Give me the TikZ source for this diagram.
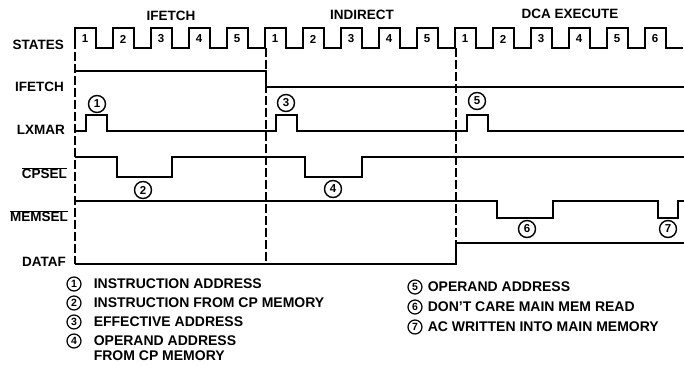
\documentclass[tikz,border=0pt]{standalone}
\usepackage{fontspec}
\setmainfont{Liberation Sans}
\usetikzlibrary{positioning}

\begin{document}
\begin{tikzpicture}[x=1pt,y=-1pt,font=\bfseries\fontsize{13.5}{15}\selectfont,
                    wave/.style={line width=2.6pt},
                    guide/.style={line width=1.2pt,dash pattern=on 9pt off 3pt},
                    signame/.style={anchor=east,inner sep=0pt},
                    marker/.style={circle,draw,line width=1.4pt,inner sep=0pt,minimum size=17pt,
                                   font=\bfseries\fontsize{11.5}{11.5}\selectfont},
                    key/.style={circle,draw,line width=1.2pt,inner sep=0pt,minimum size=14pt,
                                font=\bfseries\fontsize{10.5}{10.5}\selectfont},
                    note/.style={anchor=west,inner sep=0pt,font=\bfseries\fontsize{14}{15}\selectfont}]
    \useasboundingbox (0,0) rectangle (684,366);

    % signal names
    \node[signame] (states) at (64,45)  {STATES};
    \node[signame] (ifetch) at (64,87)  {IFETCH};
    \node[signame] (lxmar)  at (65,130) {LXMAR};
    \node[signame] (cpsel)  at (67,173) {$\overline{\mbox{CPSEL}}$};
    \node[signame] (memsel) at (68,216) {$\overline{\mbox{MEMSEL}}$};
    \node[signame] (dataf)  at (66,262) {DATAF};

    % cycle names
    \node (hifetch)   at (171,16) {IFETCH};
    \node (hindirect) at (362,15) {INDIRECT};
    \node (hdca)      at (570,14) {DCA EXECUTE};

    % state guides
    \draw[guide] (75,28)  -- (75,264);
    \draw[guide] (266,48) -- (266,264);
    \draw[guide] (456,48) -- (456,243);

    % waveforms
    \draw[wave] (75,48) \foreach \k in {0,...,15} { -- ++(0,-20) -- ++(21,0) -- ++(0,20) -- ++(17,0) };
    \foreach \n [count=\k from 0] in {1,2,3,4,5,1,2,3,4,5,1,2,3,4,5,6}
        \node[font=\bfseries\fontsize{11.5}{11.5}\selectfont] (s\k) at (85+38*\k,39) {\n};
    \draw[wave] (75,71) -- (266,71) -- (266,87) -- (684,87);
    \draw[wave] (75,131) -- (86,131) |- (107,115) |- (276,131) |- (297,115)
                |- (467,131) |- (488,115) |- (684,131);
    \draw[wave] (75,157) -| (117,177) -| (172,157) -| (305,177) -| (362,157) -- (684,157);
    \draw[wave] (75,201) -| (497,218) -| (553,201) -| (658,218) -| (678,201) -- (684,201);
    \draw[wave] (75,264) -| (456,243) -- (684,243);

    % markers
    \node[marker] (m1) at (97,104)  {1};
    \node[marker] (m2) at (143,190) {2};
    \node[marker] (m3) at (286,103) {3};
    \node[marker] (m4) at (333,189) {4};
    \node[marker] (m5) at (477,101) {5};
    \node[marker] (m6) at (527,229) {6};
    \node[marker] (m7) at (668,229) {7};

    % legend
    \node[key] (k1) at (74,284) {1};
    \node[note,right=12pt of k1] (t1) {INSTRUCTION ADDRESS};
    \node[key] (k2) at (74,303) {2};
    \node[note,right=12pt of k2] (t2) {INSTRUCTION FROM CP MEMORY};
    \node[key] (k3) at (74,322) {3};
    \node[note,right=12pt of k3] (t3) {EFFECTIVE ADDRESS};
    \node[key] (k4) at (74,341) {4};
    \node[note,right=12pt of k4] (t4) {OPERAND ADDRESS};
    \node[note,below=4pt of t4.south west,anchor=north west] (t4b) {FROM CP MEMORY};
    \node[key] (k5) at (415,287) {5};
    \node[note,right=5pt of k5] (t5) {OPERAND ADDRESS};
    \node[key] (k6) at (415,307) {6};
    \node[note,right=5pt of k6] (t6) {DON'T CARE MAIN MEM READ};
    \node[key] (k7) at (415,327) {7};
    \node[note,right=5pt of k7] (t7) {AC WRITTEN INTO MAIN MEMORY};
\end{tikzpicture}
\end{document}
